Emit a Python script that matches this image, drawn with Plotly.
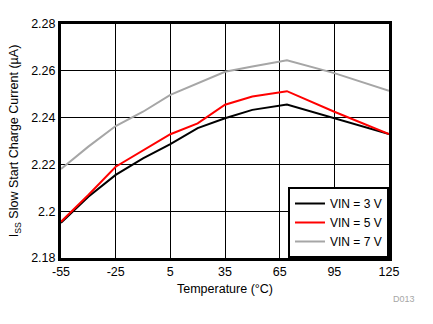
import plotly.graph_objects as go

temps = [-55, -40, -25, -10, 5, 20, 35, 50, 69, 95, 125]
vin3 = [2.195, 2.2062, 2.2155, 2.2226, 2.2287, 2.2355, 2.2397, 2.2433, 2.2456, 2.2397, 2.233]
vin5 = [2.1955, 2.2069, 2.2190, 2.2261, 2.2329, 2.2375, 2.2455, 2.2490, 2.2513, 2.2425, 2.233]
vin7 = [2.218, 2.2276, 2.2364, 2.2425, 2.2497, 2.2545, 2.2596, 2.2618, 2.2645, 2.2590, 2.2515]

x_ticks = [-55, -25, 5, 35, 65, 95, 125]
x_labels = ["-55", "-25", "5", "35", "65", "95", "125"]
y_ticks = [2.18, 2.2, 2.22, 2.24, 2.26, 2.28]
y_labels = ["2.18", "2.2", "2.22", "2.24", "2.26", "2.28"]

series = [("VIN = 3 V", vin3, "#000000"),
          ("VIN = 5 V", vin5, "#ff0000"),
          ("VIN = 7 V", vin7, "#a6a6a6")]

fig = go.Figure()
for name, vals, col in series:
    fig.add_trace(go.Scatter(x=temps, y=vals, mode="lines", name=name,
                             line=dict(color=col, width=2)))

font = dict(family="Liberation Sans, Arial, sans-serif", size=12, color="#000000")
fig.update_layout(
    width=433, height=324,
    margin=dict(l=58, r=44, t=24, b=66),
    paper_bgcolor="white", plot_bgcolor="white",
    font=font,
    showlegend=True,
    legend=dict(x=1, y=0, xanchor="right", yanchor="bottom",
                bgcolor="white", bordercolor="black", borderwidth=2,
                font=dict(family="Liberation Sans, Arial, sans-serif", size=12),
                tracegroupgap=0, itemwidth=30),
    xaxis=dict(range=[-55, 125], tickvals=x_ticks, ticktext=x_labels,
               showgrid=True, tickfont=dict(size=12.5),
               gridcolor="black", gridwidth=1, showline=True, linecolor="black",
               linewidth=3, mirror=True, ticks="", zeroline=False,
               title=dict(text="Temperature (°C)", standoff=7,
                          font=dict(size=12.5))),
    yaxis=dict(range=[2.18, 2.28], tickvals=y_ticks, ticktext=y_labels,
               tickfont=dict(size=12.5),
               showgrid=True, gridcolor="black", gridwidth=1, showline=True,
               linecolor="black", linewidth=3, mirror=True, ticks="",
               zeroline=False,
               title=dict(text="I<sub>SS</sub> Slow Start Charge Current (µA)",
                          standoff=10, font=dict(size=12.5))),
)
fig.add_annotation(text="D013", xref="paper", yref="paper", x=1.085, y=-0.145,
                   xanchor="right", yanchor="top", showarrow=False,
                   font=dict(size=9, color="#a6a6a6"))
fig.write_html("out.html")
